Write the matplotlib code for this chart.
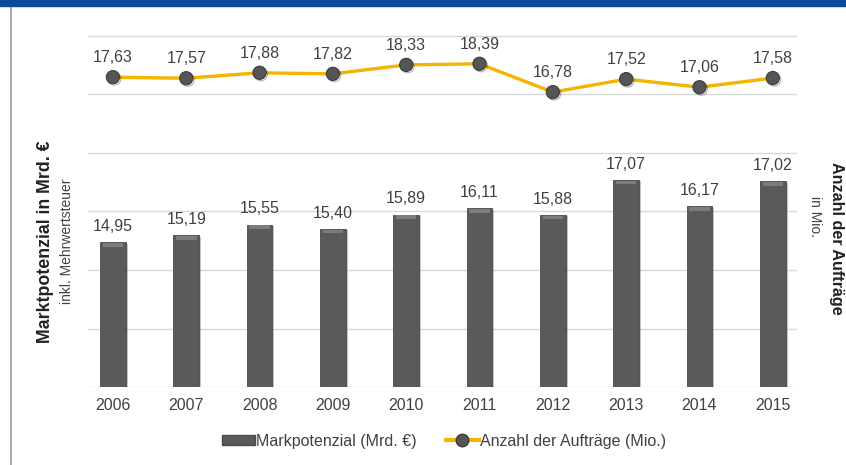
import matplotlib.pyplot as plt
import matplotlib.patheffects as pe
from matplotlib.patches import Patch
from matplotlib.lines import Line2D

plt.rcParams['font.family'] = ['Liberation Sans', 'DejaVu Sans']

years = ['2006', '2007', '2008', '2009', '2010', '2011', '2012', '2013', '2014', '2015']
markt = [14.95, 15.19, 15.55, 15.40, 15.89, 16.11, 15.88, 17.07, 16.17, 17.02]
auftraege = [17.63, 17.57, 17.88, 17.82, 18.33, 18.39, 16.78, 17.52, 17.06, 17.58]

txt = '#404040'
bar_col = '#5a5a5a'
gelb = '#f5b400'


def de(v):
    return f'{v:.2f}'.replace('.', ',')


fig = plt.figure(figsize=(8.46, 4.65), dpi=100)
ax = fig.add_axes([88 / 846, 1 - 387.3 / 465, (797 - 88) / 846, (387.3 - 35.5) / 465])
x = list(range(len(years)))

# bars for the market volume, with a soft lighter cap at the top
shadow = [pe.SimplePatchShadow(offset=(1.5, -1), alpha=0.25), pe.Normal()]
bars = ax.bar(x, markt, width=0.35, color=bar_col, edgecolor='#4a4a4a', linewidth=0.6, zorder=2)
for b in bars:
    b.set_path_effects(shadow)
ax.bar(x, [0.13] * len(x), bottom=[v - 0.15 for v in markt], width=0.28,
       color='#7c7c7c', linewidth=0, zorder=3)
for xi, v in zip(x, markt):
    ax.annotate(de(v), (xi, v), xytext=(0, 6), textcoords='offset points',
                ha='center', va='bottom', fontsize=11.5, color=txt)

ax.set_ylim(10, 22)
ax.set_yticks([10, 12, 14, 16, 18, 20, 22])
ax.set_xlim(-0.34, 9.33)
ax.set_xticks(x)
ax.set_xticklabels(years, fontsize=11.5, color=txt)
ax.tick_params(axis='both', length=0, pad=8)
ax.tick_params(axis='y', labelleft=False)
ax.grid(axis='y', color='#d9d9d9', linewidth=1, zorder=0)
ax.set_axisbelow(True)
for s in ax.spines.values():
    s.set_visible(False)

# order count on the secondary axis
ax2 = ax.twinx()
ax2.set_ylim(0, 20)
ax2.set_yticks([])
for s in ax2.spines.values():
    s.set_visible(False)
ax2.plot(x, auftraege, color=gelb, linewidth=2.4, zorder=3)
ax2.plot(x, auftraege, linestyle='none', marker='o', markersize=9.5,
         markerfacecolor='#555555', markeredgecolor='#3c3c3c', markeredgewidth=0.8,
         zorder=4, path_effects=[pe.SimpleLineShadow(offset=(1, -1), alpha=0.3), pe.Normal()])
for xi, v in zip(x, auftraege):
    ax2.annotate(de(v), (xi, v), xytext=(0, 8.5), textcoords='offset points',
                 ha='center', va='bottom', fontsize=11.5, color=txt)

# axis titles
fig.text(46 / 846, 1 - 242 / 465, 'Marktpotenzial in Mrd. €', rotation=90, ha='center', va='center',
         fontsize=12.8, fontweight='bold', color='#222222')
fig.text(67 / 846, 1 - 241 / 465, 'inkl. Mehrwertsteuer', rotation=90, ha='center', va='center',
         fontsize=10, color=txt)
fig.text(836 / 846, 1 - 238 / 465, 'Anzahl der Aufträge', rotation=-90, ha='center', va='center',
         fontsize=11.6, fontweight='bold', color='#222222')
fig.text(815 / 846, 1 - 196 / 465, 'in Mio.', rotation=-90, ha='center', va='top',
         fontsize=10, color=txt)

# header band and left rule
fig.patches.append(plt.Rectangle((0, 1 - 6 / 465), 1, 6 / 465, transform=fig.transFigure,
                                 color='#0b4a9a', zorder=5))
fig.add_artist(Line2D([10.5 / 846, 10.5 / 846], [0, 1 - 6 / 465], transform=fig.transFigure,
                      color='#9a9a9a', linewidth=1.2))

handles = [Patch(facecolor=bar_col, edgecolor='#4a4a4a'),
           Line2D([], [], color=gelb, linewidth=3, marker='o', markersize=9,
                  markerfacecolor='#555555', markeredgecolor='#3c3c3c')]
fig.legend(handles, ['Markpotenzial (Mrd. €)', 'Anzahl der Aufträge (Mio.)'],
           loc='center', bbox_to_anchor=(444 / 846, 1 - 441 / 465), ncol=2, frameon=False,
           fontsize=11.5, labelcolor=txt, handlelength=2.1, handleheight=0.6,
           handletextpad=0.05, columnspacing=1.8)

fig.savefig('out.png', dpi=100)
